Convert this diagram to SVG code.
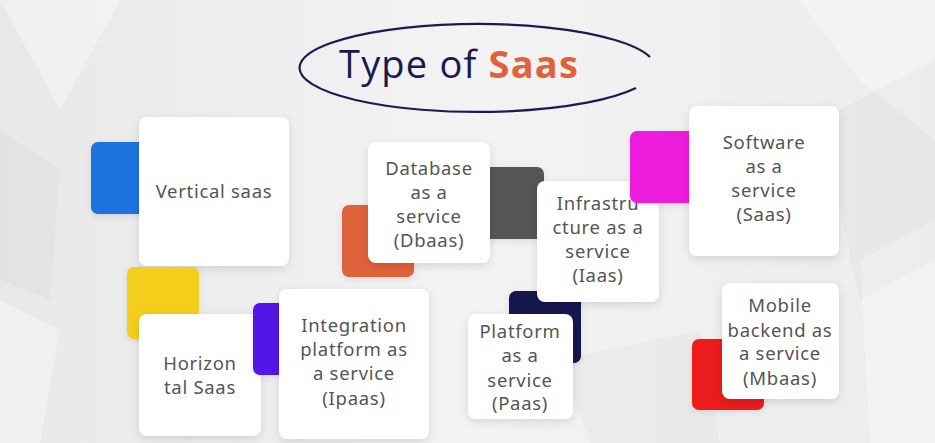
<svg xmlns="http://www.w3.org/2000/svg" width="935" height="443" viewBox="0 0 935 443">
<defs>
<linearGradient id="bg" x1="0" y1="0" x2="1" y2="0">
<stop offset="0" stop-color="#e8e8e9"/>
<stop offset="0.5" stop-color="#f3f3f4"/>
<stop offset="1" stop-color="#ececed"/>
</linearGradient>
<filter id="sh" x="-20%" y="-20%" width="140%" height="140%">
<feDropShadow dx="0" dy="3" stdDeviation="4" flood-color="#000" flood-opacity="0.12"/>
</filter>
<filter id="sh2" x="-20%" y="-20%" width="140%" height="140%">
<feDropShadow dx="0" dy="2" stdDeviation="3" flood-color="#000" flood-opacity="0.10"/>
</filter>
</defs>
<style>
.card{fill:#fff;filter:url(#sh)}
.sq{filter:url(#sh2)}
.t{font-family:"Noto Sans","Open Sans","DejaVu Sans",sans-serif;font-size:18.5px;fill:#555555;text-anchor:middle;letter-spacing:0.7px}
</style>
<rect width="935" height="443" fill="url(#bg)"/>
<g fill="#ffffff" opacity="0.35">
<polygon points="0,0 120,0 60,110"/>
<polygon points="800,0 935,0 935,140 860,80"/>
<polygon points="860,260 935,220 935,443 870,443"/>
<polygon points="0,300 60,330 40,443 0,443"/>
</g>
<g fill="#000000" opacity="0.025">
<polygon points="820,120 935,60 935,260 860,300"/>
<polygon points="0,130 60,170 50,300 0,280"/>
<polygon points="560,360 700,330 720,443 590,443"/>
</g>
<g id="title">
<path d="M650,57 A178,44 0 1 0 636,88" fill="none" stroke="#1c1a55" stroke-width="2.2"/>
<text x="339" y="78" font-family="'Open Sans','Noto Sans',sans-serif" font-size="38" letter-spacing="1.2" fill="#1b1a4e">Type of <tspan fill="#e0623a" font-weight="bold">Saas</tspan></text>
</g>
<g id="connectors"/>
<g id="vertical-saas">
<rect class="sq" x="91" y="142" width="72" height="72" rx="7" fill="#1a73e0"/>
<rect class="card" x="139" y="117" width="150" height="149" rx="8"/>
<text class="t" x="214" y="198">Vertical saas</text>
</g>
<g id="horizontal-saas">
<rect class="sq" x="127" y="267" width="72" height="72" rx="7" fill="#f3cf1a"/>
<rect class="card" x="139" y="314" width="122" height="122" rx="8"/>
<text class="t" x="200" y="370">Horizon</text>
<text class="t" x="200" y="394">tal Saas</text>
</g>
<g id="ipaas">
<rect class="sq" x="253" y="303" width="72" height="72" rx="7" fill="#5319e6"/>
<rect class="card" x="279" y="289" width="150" height="150" rx="8"/>
<text class="t" x="354" y="332">Integration</text>
<text class="t" x="354" y="356">platform as</text>
<text class="t" x="354" y="380">a service</text>
<text class="t" x="354" y="405">(Ipaas)</text>
</g>
<g id="dbaas">
<rect class="sq" x="342" y="205" width="72" height="72" rx="7" fill="#e0623a"/>
<rect class="sq" x="472" y="167" width="72" height="72" rx="7" fill="#555555"/>
<rect class="card" x="368" y="142" width="122" height="121" rx="8"/>
<text class="t" x="429" y="175">Database</text>
<text class="t" x="429" y="199">as a</text>
<text class="t" x="429" y="223">service</text>
<text class="t" x="429" y="247">(Dbaas)</text>
</g>
<g id="paas">
<rect class="sq" x="509" y="291" width="72" height="72" rx="7" fill="#15154f"/>
<rect class="card" x="468" y="314" width="105" height="105" rx="8"/>
<text class="t" x="520" y="338">Platform</text>
<text class="t" x="520" y="362">as a</text>
<text class="t" x="520" y="387">service</text>
<text class="t" x="520" y="410">(Paas)</text>
</g>
<g id="iaas">
<rect class="card" x="537" y="181" width="122" height="121" rx="8"/>
<text class="t" x="598" y="210">Infrastru</text>
<text class="t" x="598" y="234">cture as a</text>
<text class="t" x="598" y="258">service</text>
<text class="t" x="598" y="282">(Iaas)</text>
</g>
<g id="saas">
<rect class="sq" x="630" y="131" width="72" height="72" rx="7" fill="#ee1fdc"/>
<rect class="card" x="689" y="106" width="150" height="150" rx="8"/>
<text class="t" x="764" y="149">Software</text>
<text class="t" x="764" y="173">as a</text>
<text class="t" x="764" y="197">service</text>
<text class="t" x="764" y="221">(Saas)</text>
</g>
<g id="mbaas">
<rect class="sq" x="692" y="339" width="72" height="71" rx="7" fill="#ec1b1f"/>
<rect class="card" x="722" y="283" width="117" height="116" rx="8"/>
<text class="t" x="780" y="312">Mobile</text>
<text class="t" x="780" y="337">backend as</text>
<text class="t" x="780" y="360">a service</text>
<text class="t" x="780" y="385">(Mbaas)</text>
</g>
</svg>
